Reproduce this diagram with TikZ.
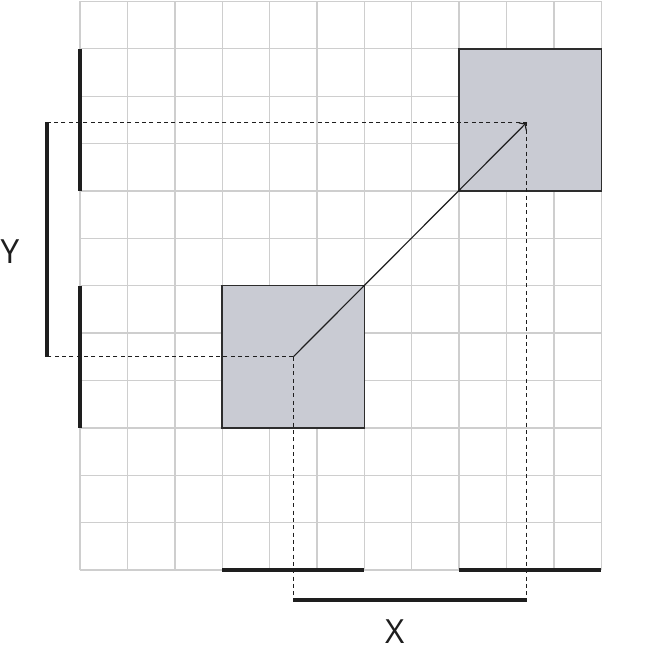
\documentclass[tikz,border=0pt]{standalone}
\usepackage{fontspec}
\setmainfont{Open Sans}
\usepackage{tikz}
\usetikzlibrary{calc,arrows.meta}
\definecolor{gridln}{RGB}{206,206,206}
\definecolor{boxfill}{RGB}{201,203,211}
\definecolor{boxedge}{RGB}{45,45,45}
\definecolor{ink}{RGB}{30,30,30}
\tikzset{
  pgrid/.style={gridln,line width=0.8pt},
  pbox/.style={draw=boxedge,fill=boxfill,line width=0.9pt,minimum size=3cm,inner sep=0pt,outer sep=0pt},
  pbar/.style={ink,line width=2.4pt},
  pguide/.style={ink,line width=0.6pt,dash pattern=on 2.4pt off 2pt},
  plink/.style={ink,line width=0.7pt},
  plabel/.style={font=\fontsize{20}{24}\selectfont,text=ink,inner sep=0pt},
}
\begin{document}
\begin{tikzpicture}
  \useasboundingbox (-1.69,-1.73) rectangle (12.05,12.03);
  \draw[pgrid] (0,0) grid (11,12);
  \node[pbox] (sqA) at (4.5,4.5) {};
  \node[pbox] (sqB) at (9.5,9.5) {};
  \coordinate (pA) at (4.5,4.5);
  \coordinate (pB) at (9.43,9.45);
  % projections of the boxes on the axes
  \draw[pbar] (sqA.south west |- 0,0) -- (sqA.south east |- 0,0);
  \draw[pbar] (sqB.south west |- 0,0) -- (sqB.south east |- 0,0);
  \draw[pbar] (sqA.south west -| 0,0) -- (sqA.north west -| 0,0);
  \draw[pbar] (sqB.south west -| 0,0) -- (sqB.north west -| 0,0);
  % distance brackets
  \coordinate (yA) at (pA -| -0.7,0);
  \coordinate (yB) at (pB -| -0.7,0);
  \coordinate (xA) at (pA |- 0,-0.63);
  \coordinate (xB) at (pB |- 0,-0.63);
  \draw[pguide] (pA) -- (yA);
  \draw[pguide] (pB) -- (yB);
  \draw[pguide] (pA) -- (xA);
  \draw[pguide] (pB) -- (xB);
  \draw[pbar] (yA) -- (yB);
  \draw[pbar] (xA) -- (xB);
  \draw[plink,-{To[length=4pt,width=7pt]}] (pA) -- (pB);
  \node[plabel] (ylab) at (-1.48,6.71) {Y};
  \node[plabel] (xlab) at (6.64,-1.3) {X};
\end{tikzpicture}
\end{document}
